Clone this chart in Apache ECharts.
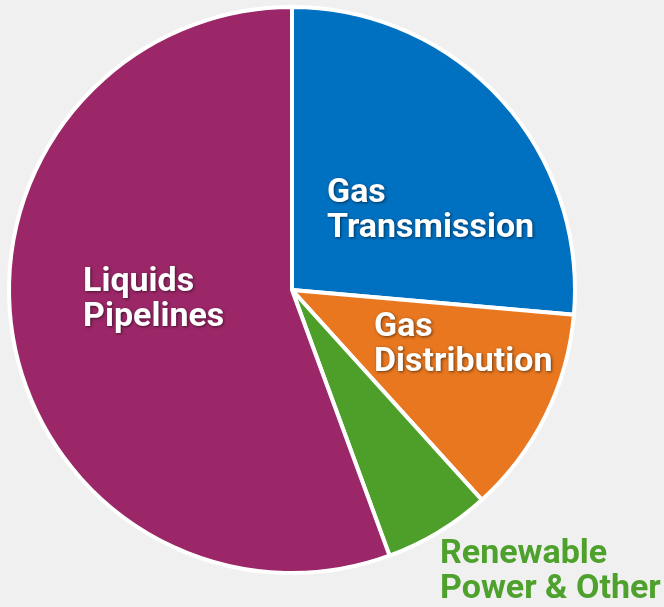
<!DOCTYPE html>
<html>
<head>
<meta charset="utf-8">
<script src="https://cdn.jsdelivr.net/npm/echarts@6/dist/echarts.min.js"></script>
<style>
  html, body { margin: 0; padding: 0; background: #f0f0f0; }
  #chart { width: 664px; height: 607px; }
</style>
</head>
<body>
<div id="chart"></div>
<script>
// segment shares, clockwise from 12 o'clock
const segments = ['Gas Transmission', 'Gas Distribution', 'Renewable Power & Other', 'Liquids Pipelines']
const shares = [26.4, 11.9, 6.1, 55.6]
const labelText = ['Gas\nTransmission', 'Gas\nDistribution', 'Renewable\nPower & Other', 'Liquids\nPipelines']
const colors = ['#0070c0', '#e8771f', '#4e9f2a', '#9b2768']

// where each label's top-left corner sits
const labelPos = [[327, 176], [374, 310], [440, 537], [83, 265]]

const chart = echarts.init(document.getElementById('chart'))

chart.setOption({
  backgroundColor: '#f0f0f0',
  animation: false,
  series: [
    {
      type: 'pie',
      center: [292, 290],
      radius: [0, 283],
      startAngle: 90,
      clockwise: true,
      data: segments.map((name, i) => ({
        name: name,
        value: shares[i],
        itemStyle: { color: colors[i] },
        label: i === 2 ? {
          color: '#4ea12c',
          textShadowBlur: 0,
          textShadowOffsetX: 0,
          textShadowOffsetY: 0
        } : {}
      })),
      itemStyle: {
        borderColor: '#ffffff',
        borderWidth: 4
      },
      label: {
        show: true,
        position: 'inside',
        overflow: 'none',
        formatter: p => labelText[p.dataIndex],
        color: '#ffffff',
        fontFamily: 'Roboto, sans-serif',
        fontWeight: 'bold',
        fontSize: 34,
        lineHeight: 35,
        align: 'left',
        textShadowColor: 'rgba(0,0,0,0.55)',
        textShadowBlur: 3,
        textShadowOffsetX: 1,
        textShadowOffsetY: 1
      },
      labelLine: { show: false },
      labelLayout: function (params) {
        const p = labelPos[params.dataIndex]
        return {
          x: p[0],
          y: p[1],
          align: 'left',
          verticalAlign: 'top'
        }
      }
    }
  ]
})
</script>
</body>
</html>
